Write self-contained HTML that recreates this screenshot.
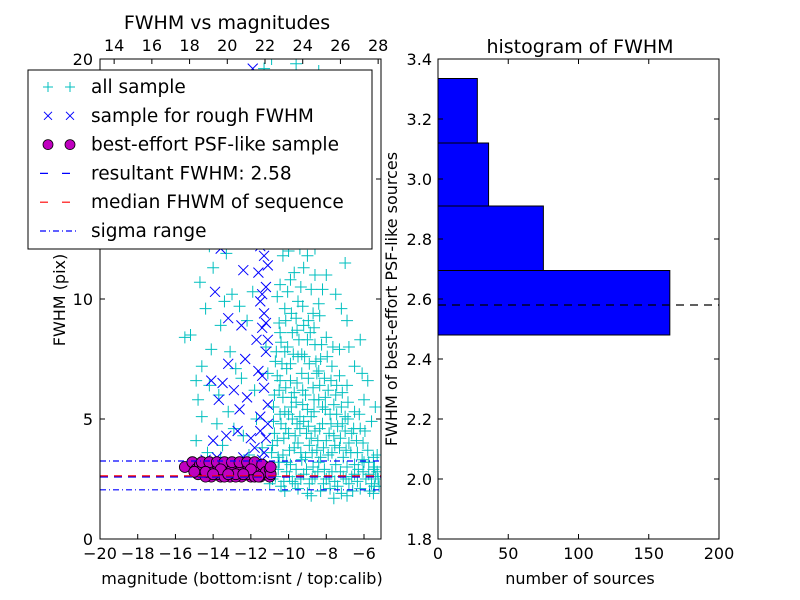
<!DOCTYPE html>
<html><head><meta charset="utf-8"><style>
html,body{margin:0;padding:0;background:#fff}
svg{display:block;font-family:"DejaVu Sans","Liberation Sans",sans-serif}
</style></head><body>
<svg id="c" width="800" height="600" viewBox="0 0 800 600">
<defs><clipPath id="lc"><rect x="100" y="59" width="281" height="480"/></clipPath>
<clipPath id="rc"><rect x="438" y="59" width="281" height="480"/></clipPath></defs>
<g id="left"></g>
<g id="right"></g>
</svg>
<script>
const cyanPts=[[-11,2.3],[-10.7,2.6],[-10.4,2.2],[-10.1,2.8],[-9.8,2.4],[-9.5,2.1],[-9.2,2.7],[-8.9,2.3],[-8.6,2.6],[-8.3,2.0],[-8,2.5],[-7.7,2.8],[-7.4,2.2],[-7.1,2.6],[-6.8,2.3],[-6.5,2.7],[-6.2,2.1],[-5.9,2.5],[-5.6,2.3],[-5.3,2.8],[-5.2,2.2],
[-10.9,3.0],[-10.5,3.2],[-10.2,2.0],[-9.9,3.1],[-9.6,2.9],[-9.3,3.3],[-9,1.9],[-8.7,3.0],[-8.4,3.2],[-8.1,2.9],[-7.8,2.1],[-7.5,3.1],[-7.2,1.9],[-6.9,3.0],[-6.6,2.0],[-6.3,2.9],[-6,3.2],[-5.7,2.0],[-5.4,2.6],[-6.9,1.8],[-7.6,1.7],[-8.8,1.8],[-5.5,1.9],
[-10.9,3.6],[-10.6,4.1],[-10.3,3.5],[-10,4.4],[-9.7,3.8],[-9.4,4.6],[-9.1,3.4],[-8.8,4.2],[-8.5,3.7],[-8.2,4.8],[-7.9,3.5],[-7.6,4.3],[-7.3,3.8],[-7,4.5],[-6.7,3.6],[-6.4,4.1],[-6.1,3.3],[-5.8,3.7],[-5.5,3.4],
[-10.8,4.9],[-10.4,4.8],[-10.1,3.2],[-9.8,5.0],[-9.5,4.0],[-9.2,4.9],[-8.9,3.9],[-8.6,4.5],[-8.3,3.4],[-8,4.1],[-7.7,3.6],[-7.4,4.7],[-7.1,3.4],[-6.8,4.0],[-6.5,3.1],[-6.2,4.6],
[-10.8,5.5],[-10.5,6.2],[-10.2,5.3],[-9.9,6.6],[-9.6,5.7],[-9.3,6.9],[-9,5.4],[-8.7,6.3],[-8.4,5.8],[-8.1,6.7],[-7.8,5.2],[-7.5,6.0],[-7.2,5.5],[-6.9,6.4],[-6.5,5.3],
[-10.6,6.8],[-10.3,5.9],[-10,5.2],[-9.7,6.1],[-9.4,5.1],[-9.1,6.0],[-8.8,5.1],[-8.5,6.9],[-8.2,5.5],[-7.9,6.2],[-7.6,5.6],[-7.3,6.8],[-7,5.1],
[-10.7,7.4],[-10.4,8.2],[-10.1,7.1],[-9.8,8.6],[-9.5,7.6],[-9.2,8.9],[-8.9,7.3],[-8.6,8.1],[-8.3,7.5],[-8,8.4],[-7.7,7.2],[-7.3,7.9],
[-10.5,9.0],[-10.2,7.8],[-9.9,7.3],[-9.6,9.2],[-9.3,7.7],[-9,8.3],[-8.7,9.4],[-8.4,7.0],
[-10.6,10.1],[-10.2,9.6],[-9.9,10.8],[-9.5,9.9],[-9.2,11.3],[-8.8,10.4],[-8.4,9.8],[-8,11.0],[-7.5,10.2],[-10.3,11.8],[-9.7,12.4],[-9.1,12.9],[-8.6,12.1],[-7.8,12.6],[-10.7,12.9],[-6.9,9.1],[-6.2,8.3],[-7.0,11.5],[-5.6,4.9],[-6.0,5.8],
[-10.5,14.2],[-9.8,15.1],[-9.3,13.8],[-8.7,16.0],[-8.1,14.6],[-10.1,17.2],[-9.0,18.3],[-8.4,19.5],[-9.6,19.8],[-10.7,16.1],[-7.6,15.3],[-7.2,17.8],[-6.4,14.9],[-10.3,19.2],[-8.9,13.3],
[-15.5,8.4],[-15.2,8.5],[-14.8,5.8],[-14.6,7.2],[-14.4,9.6],[-14.2,6.4],[-14.0,11.3],[-13.8,4.8],[-13.6,8.9],[-13.4,13.5],[-13.2,5.3],[-13.0,10.2],[-12.8,7.1],[-12.6,15.8],[-12.4,4.3],[-12.2,9.1],[-12.0,12.4],[-11.8,6.2],[-11.6,17.6],[-11.4,3.8],[-11.2,8.0],
[-14.9,4.1],[-14.7,10.7],[-14.3,3.6],[-14.1,7.9],[-13.9,14.6],[-13.7,6.0],[-13.5,3.9],[-13.3,11.9],[-13.1,7.8],[-12.9,4.6],[-12.7,12.9],[-12.5,6.7],[-12.3,18.6],[-12.1,3.5],[-11.9,10.3],[-11.7,5.0],[-11.5,14.3],[-11.3,19.6],[-11.1,6.9],
[-14.6,5.1],[-14.2,12.2],[-13.8,16.4],[-13.4,9.9],[-12.9,19.0],[-12.6,9.7],[-12.2,16.7],[-11.8,13.1],[-14.9,6.6],[-13.6,3.4],
[-10.85,2.5],[-10.55,2.9],[-10.25,2.4],[-9.95,2.6],[-9.65,2.3],[-9.35,2.5],[-9.05,2.9],[-8.75,2.5],[-8.45,2.8],[-8.15,2.3],[-7.85,2.6],[-7.55,2.4],[-7.25,2.8],[-6.95,2.5],[-6.65,2.6],[-6.35,2.4],[-6.05,2.8],[-5.75,2.7],[-5.45,2.2],[-5.25,2.5],
[-10.85,3.9],[-10.55,3.4],[-10.25,4.2],[-9.95,3.7],[-9.65,4.3],[-9.35,3.6],[-9.05,4.4],[-8.75,3.6],[-8.45,4.1],[-8.15,3.8],[-7.85,4.4],[-7.55,3.9],[-7.25,4.2],[-6.95,3.7],[-6.65,4.4],[-6.35,3.6],[-6.05,4.0],[-5.75,3.2],[-5.45,3.0],
[-10.75,4.4],[-10.45,5.2],[-10.15,4.6],[-9.85,5.5],[-9.55,4.8],[-9.25,5.6],[-8.95,4.7],[-8.65,5.3],[-8.35,4.6],[-8.05,5.4],[-7.75,4.8],[-7.45,5.2],[-7.15,4.8],[-6.85,5.0],[-6.55,4.6],[-6.25,5.2],[-5.95,4.5],
[-10.75,6.0],[-10.45,6.6],[-10.15,6.3],[-9.85,5.9],[-9.55,6.5],[-9.25,6.2],[-8.95,6.7],[-8.65,5.8],[-8.35,6.4],[-8.05,5.9],[-7.75,6.6],[-7.45,6.4],[-7.15,6.1],[-6.85,5.7],
[-10.65,7.8],[-10.35,7.3],[-10.05,8.0],[-9.75,7.7],[-9.45,8.3],[-9.15,7.6],[-8.85,8.6],[-8.55,7.4],[-8.25,8.1],[-7.95,7.6],[-7.65,8.0],
[-10.45,8.6],[-10.15,9.1],[-9.85,9.4],[-9.55,8.7],[-9.25,9.7],[-8.95,9.1],[-8.65,8.8],[-8.35,9.3],
[-10.45,10.6],[-10.05,10.3],[-9.7,11.1],[-9.35,10.5],[-9.0,11.8],[-8.6,11.0],[-8.2,10.4],[-10.0,12.0],[-9.4,12.1],
[-6.5,7.2],[-5.8,6.6],[-6.8,8.0],[-7.2,9.6],[-5.4,5.5],[-6.1,6.9],[-5.5,2.9],[-5.3,3.5],
[-10.9,20],[-9.4,20.3],[-8.2,17.0],[-11.2,13.9],[-9.9,16.6],[-7.9,19.0],[-10.6,18.3]];
const bluePts=[[-11.4,3.3],[-11.2,4.2],[-11.5,5.1],[-11.3,6.3],[-11.6,7.0],[-11.2,7.8],[-11.4,8.8],[-11.3,9.4],[-11.5,9.9],[-11.2,10.5],[-11.6,11.1],[-11.3,11.8],[-11.4,13.0],[-11.5,14.6],[-11.2,15.4],[-11.7,16.1],[-11.4,17.7],[-11.1,4.8],[-11.8,3.8],[-11.2,3.0],
[-12.4,3.4],[-12.7,4.5],[-12.2,5.9],[-12.9,6.2],[-12.5,8.9],[-13.0,3.2],[-13.3,4.3],[-13.7,5.8],[-13.5,6.5],[-13.2,9.2],[-12.8,12.5],[-13.8,3.4],[-14.4,3.3],[-14.7,3.1],[-14.1,6.6],[-12.4,11.2],[-13.6,12.1],[-12.1,13.6],[-12.9,16.8],[-12.6,18.6],[-11.9,19.6],[-14.3,14.8],[-13.9,10.3],[-12.2,3.1],[-13.4,3.0],[-11.7,8.3],[-11.9,12.5],
[-11.3,3.6],[-11.5,4.5],[-11.1,5.6],[-11.4,6.8],[-11.1,8.3],[-11.2,9.0],[-11.4,10.2],[-11.1,11.4],[-11.5,12.2],[-11.3,14.0],[-12.0,4.2],[-12.3,7.5],[-13.2,7.3],[-14.0,4.1],[-12.6,5.4]];
const magPts=[[-15.5,3.0],[-15.1,3.2],[-14.9,2.9],[-14.7,3.1],[-14.5,2.7],[-14.3,3.0],[-14.1,2.6],[-13.9,2.9],[-13.7,3.1],[-13.5,2.7],[-13.3,3.0],[-13.1,2.6],[-12.9,2.9],[-12.7,3.1],[-12.5,2.6],[-12.3,2.9],[-12.1,3.1],[-11.9,2.7],[-11.7,3.0],[-11.5,2.6],[-11.3,2.9],[-11.1,2.7],
[-14.8,2.7],[-14.4,2.6],[-14.0,3.1],[-13.6,2.6],[-13.2,2.8],[-12.8,2.6],[-12.4,3.0],[-12.0,2.6],[-11.6,2.8],[-11.2,3.0],[-13.8,2.7],[-13.0,2.9],[-12.2,2.7],[-11.4,2.7],[-14.6,2.9],[-12.6,2.8],[-11.8,2.6],[-13.4,2.6],[-14.2,2.8],[-11.0,2.6],
[-15.0,2.8],[-14.6,3.2],[-14.2,3.2],[-13.8,3.2],[-13.4,3.2],[-13.0,3.2],[-12.6,3.2],[-12.2,3.2],[-11.8,3.2],[-11.4,3.1],[-14.4,2.8],[-13.6,2.9],[-12.8,2.7],[-12.0,2.9],[-11.2,2.8],[-11.0,2.9],[-14.0,2.7],[-13.2,2.7],[-12.4,2.7],[-11.6,2.6],[-10.95,2.7],[-10.95,3.0]];
const resultFWHM=2.58, medianFWHM=2.63, sigmaLo=2.05, sigmaHi=3.25;
const xTicksBottom=[-20,-18,-16,-14,-12,-10,-8,-6];
const xTicksTop=[14,16,18,20,22,24,26,28];
const yTicksLeft=[0,5,10,15,20];
const calibOffset=33.25;
const binEdges=[2.48,2.695,2.91,3.12,3.335];
const binCounts=[165,75,36,28];
const histXTicks=[0,50,100,150,200];
const histYTicks=[1.8,2.0,2.2,2.4,2.6,2.8,3.0,3.2,3.4];

const NS='http://www.w3.org/2000/svg';
function mk(tag,attrs,parent){const e=document.createElementNS(NS,tag);for(const k in attrs)e.setAttribute(k,attrs[k]);parent.appendChild(e);return e;}
function fmt(v){return v<0?'\u2212'+Math.abs(v):String(v);}
const L=document.getElementById('left'), R=document.getElementById('right');
const lx=v=>100+(v+20)*(264/14), ly=v=>539-v*24;
const plot=mk('g',{'clip-path':'url(#lc)'},L);


cyanPts.forEach(p=>{const x=lx(p[0]),y=ly(p[1]);const e=mk('path',{d:`M${x-6} ${y}h12M${x} ${y-6}v12`,stroke:'#00bfbf','stroke-width':1,fill:'none'},plot);

});
bluePts.forEach(p=>{const x=lx(p[0]),y=ly(p[1]);const e=mk('path',{d:`M${x-5} ${y-5}l10 10M${x-5} ${y+5}l10 -10`,stroke:'#0000ff','stroke-width':1,fill:'none'},plot);

});
magPts.forEach(p=>{const e=mk('circle',{cx:lx(p[0]),cy:ly(p[1]),r:5.5,fill:'#bf00bf',stroke:'#000','stroke-width':0.8},plot);

});
function hline(v,col,dash,name){const e=mk('line',{x1:100,x2:381,y1:ly(v),y2:ly(v),stroke:col,'stroke-width':1.2,'stroke-dasharray':dash},plot);

}
hline(resultFWHM,'#0000ff','8 6','resultant-fwhm-line');
hline(medianFWHM,'#ff0000','8 6','median-fwhm-line');
hline(sigmaLo,'#0000ff','6 3 1 3','sigma-low-line');
hline(sigmaHi,'#0000ff','6 3 1 3','sigma-high-line');
const lf=mk('rect',{x:100,y:59,width:281,height:480,fill:'none',stroke:'#000','stroke-width':1},L);


xTicksBottom.forEach(v=>{const x=lx(v);mk('path',{d:`M${x} 539v-5`,stroke:'#000'},L);
const t=mk('text',{x:x,y:559,'font-size':16,'text-anchor':'middle'},L);t.textContent=fmt(v);

});
xTicksTop.forEach(v=>{const x=lx(v-calibOffset);mk('path',{d:`M${x} 59v5`,stroke:'#000'},L);
const t=mk('text',{x:x,y:51,'font-size':16,'text-anchor':'middle'},L);t.textContent=v;

});
yTicksLeft.forEach(v=>{const y=ly(v);mk('path',{d:`M100 ${y}h5M381 ${y}h-5`,stroke:'#000'},L);
const t=mk('text',{x:93,y:y+6,'font-size':16,'text-anchor':'end'},L);t.textContent=v;

});
let t=mk('text',{x:227,y:29,'font-size':19,'text-anchor':'middle'},L);t.textContent='FWHM vs magnitudes';


t=mk('text',{x:242,y:584,'font-size':16,'text-anchor':'middle'},L);t.textContent='magnitude (bottom:isnt / top:calib)';


t=mk('text',{x:0,y:0,'font-size':16,'text-anchor':'middle',transform:'translate(65,300) rotate(-90)'},L);t.textContent='FWHM (pix)';


const lg=mk('g',{},L);


mk('rect',{x:28,y:70,width:344,height:179,fill:'#fff',stroke:'#000'},lg);
const entries=['all sample','sample for rough FWHM','best-effort PSF-like sample','resultant FWHM: 2.58','median FHWM of sequence','sigma range'];
entries.forEach((s,i)=>{const y=87+i*28.8;
const g=mk('g',{},lg);


[48,70].forEach(x=>{
if(i==0)mk('path',{d:`M${x-5} ${y}h10M${x} ${y-5}v10`,stroke:'#00bfbf',fill:'none'},g);
if(i==1)mk('path',{d:`M${x-4} ${y-4}l8 8M${x-4} ${y+4}l8 -8`,stroke:'#0000ff',fill:'none'},g);
if(i==2)mk('circle',{cx:x,cy:y,r:5,fill:'#bf00bf',stroke:'#000','stroke-width':0.8},g);});
if(i>=3)mk('line',{x1:40,x2:78,y1:y,y2:y,stroke:i==4?'#ff0000':'#0000ff','stroke-width':1.2,'stroke-dasharray':i==5?'6 3 1 3':'8 14'},g);
const tt=mk('text',{x:91,y:y+6,'font-size':18.5},g);tt.textContent=s;});
const rx=v=>438+v*(281/200), ry=v=>539-(v-1.8)*300;
const bars=mk('g',{'clip-path':'url(#rc)'},R);
binCounts.forEach((c,i)=>{const e=mk('rect',{x:rx(0),y:ry(binEdges[i+1]),width:rx(c)-rx(0),height:ry(binEdges[i])-ry(binEdges[i+1]),fill:'#0000ff',stroke:'#000','stroke-width':1},bars);

});
const ml=mk('line',{x1:438,x2:719,y1:ry(resultFWHM),y2:ry(resultFWHM),stroke:'#000','stroke-width':1.2,'stroke-dasharray':'8 6'},R);


const rf=mk('rect',{x:438,y:59,width:281,height:480,fill:'none',stroke:'#000'},R);


histXTicks.forEach(v=>{const x=rx(v);mk('path',{d:`M${x} 539v-5M${x} 59v5`,stroke:'#000'},R);
const tt=mk('text',{x:x,y:559,'font-size':16,'text-anchor':'middle'},R);tt.textContent=v;

});
histYTicks.forEach(v=>{const y=ry(v);mk('path',{d:`M438 ${y}h5M719 ${y}h-5`,stroke:'#000'},R);
const tt=mk('text',{x:432,y:y+6,'font-size':16,'text-anchor':'end'},R);tt.textContent=v.toFixed(1);

});
t=mk('text',{x:580,y:53,'font-size':19,'text-anchor':'middle'},R);t.textContent='histogram of FWHM';


t=mk('text',{x:580,y:584,'font-size':16,'text-anchor':'middle'},R);t.textContent='number of sources';


t=mk('text',{x:0,y:0,'font-size':16,'text-anchor':'middle',transform:'translate(397,299) rotate(-90)'},R);t.textContent='FWHM of best-effort PSF-like sources';


</script>
</body></html>
